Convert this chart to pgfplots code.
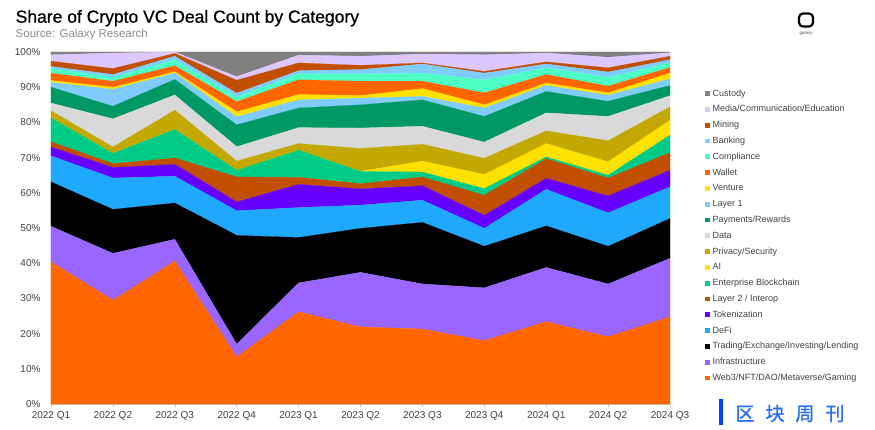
\documentclass[border=0pt]{standalone}
\usepackage{pgfplots}
\pgfplotsset{compat=1.18}
\usepackage{pgfplotstable}
\usepackage{fontspec}
\setmainfont{Liberation Sans}
\newfontfamily\titlefont[FakeBold=0.7]{Liberation Sans}
\newfontfamily\cjk[FakeBold=1.2]{Noto Sans CJK SC}

\definecolor{cWeb}{HTML}{FF6600}
\definecolor{cInfra}{HTML}{9966FF}
\definecolor{cTrade}{HTML}{000000}
\definecolor{cDefi}{HTML}{1EA9FF}
\definecolor{cToken}{HTML}{6600FF}
\definecolor{cLtwo}{HTML}{C24E00}
\definecolor{cEnt}{HTML}{00CC88}
\definecolor{cAI}{HTML}{FFE100}
\definecolor{cPriv}{HTML}{C2A800}
\definecolor{cData}{HTML}{D9D9D9}
\definecolor{cPay}{HTML}{009966}
\definecolor{cLone}{HTML}{80CCFF}
\definecolor{cVen}{HTML}{FFE100}
\definecolor{cWallet}{HTML}{FF6600}
\definecolor{cComp}{HTML}{4DFFC4}
\definecolor{cBank}{HTML}{80CCFF}
\definecolor{cMining}{HTML}{C24E00}
\definecolor{cMedia}{HTML}{DCC8FF}
\definecolor{cCust}{HTML}{808080}
\definecolor{txt}{HTML}{404040}

\pgfplotstableread{
x web3 infra trading defi token ltwo ent ai priv data pay lone ven wallet comp bank mining media custody
0 40.4 10.1 12.6 7.4 2.5 1.5 6.8 0 2.0 2.2 4.5 1.4 0.5 2.1 1.3 0.6 1.5 1.8 0.8
1 29.5 13.3 12.5 8.9 3.0 1.1 2.9 0 1.8 8.0 3.6 4.8 0.6 1.7 1.1 0.8 1.7 4.4 0.3
2 40.6 6.2 10.3 7.6 3.4 1.8 8.1 0 5.5 4.3 4.4 1.8 0.4 1.7 1.7 1.0 0.8 0.4 0
3 13.4 3.6 30.9 7.0 2.5 7.1 1.9 0 2.6 4.1 6.2 2.3 1.4 2.9 1.3 1.1 3.7 1.0 7.0
4 26.2 8.2 12.9 8.5 6.6 2.0 7.7 0 1.9 4.5 5.6 2.3 1.5 4.2 1.7 0.9 2.2 2.2 0.9
5 21.9 15.5 12.5 6.6 4.6 1.5 3.5 0 6.5 5.8 6.6 1.9 0.7 4.1 2.1 1.2 1.2 2.6 1.2
6 21.3 12.8 17.5 6.3 4.1 2.5 1.4 3.1 4.8 5.1 7.5 1.0 2.2 2.1 2.3 2.6 0.3 2.5 0.6
7 18.0 15.0 11.8 5.1 3.7 5.7 1.9 4.0 4.6 4.6 7.3 2.4 0.9 3.4 3.7 1.9 0.5 4.7 0.8
8 23.4 15.4 11.8 10.4 3.1 5.6 0.5 3.8 3.6 5.1 6.1 1.7 0.7 2.4 1.9 1.1 0.6 2.5 0.3
9 19.1 15.0 10.7 9.5 4.8 5.1 0.8 3.8 6.0 6.9 4.3 1.7 0.7 1.9 2.5 1.5 1.2 3.0 1.5
10 24.8 16.6 11.3 9.0 4.7 5.0 5.0 4.2 3.8 3.2 2.9 1.9 1.6 1.6 1.3 0.9 1.0 1.0 0.2
}\datatable

\begin{document}
\begin{tikzpicture}
\useasboundingbox (0pt,0pt) rectangle (875pt,429pt);
% title and source
\node[anchor=base west, inner sep=0pt, font=\titlefont\fontsize{17.5}{20}\selectfont, text=black] at (15.5pt,406.3pt) {Share of Crypto VC Deal Count by Category};
\node[anchor=base west, inner sep=0pt, font=\fontsize{11.5}{13}\selectfont, text=black!45] at (15.5pt,391pt) {Source: Galaxy Research};
% logo
\draw[line width=2.2pt, rounded corners=4pt] (799pt,415.5pt) rectangle (813pt,402.5pt);
\node[inner sep=0pt, font=\fontsize{4.5}{5}\selectfont, text=black!70] at (806pt,395.5pt) {galaxy};
% watermark
\fill[blue!75!cyan] (719pt,4pt) rectangle (723pt,30pt);
\node[inner sep=0pt, font=\cjk\fontsize{19}{20}\selectfont, text={rgb,255:red,40;green,110;blue,240}] at (790pt,15.5pt) {区\hspace{11pt}块\hspace{11pt}周\hspace{11pt}刊};
\begin{axis}[
  at={(51pt,25pt)}, anchor=south west,
  scale only axis, width=619pt, height=352pt,
  xmin=0, xmax=10, ymin=0, ymax=100,
  stack plots=y,
  axis x line*=bottom, axis y line*=left,
  y axis line style={draw=none},
  x axis line style={draw=gray!45, line width=0.6pt},
  tick align=outside, major tick length=3pt,
  xtick style={draw=gray!45, line width=0.6pt},
  ytick style={draw=none},
  ytick={0,10,20,30,40,50,60,70,80,90,100},
  yticklabels={0\%,10\%,20\%,30\%,40\%,50\%,60\%,70\%,80\%,90\%,100\%},
  xtick={0,1,2,3,4,5,6,7,8,9,10},
  xticklabels={2022 Q1,2022 Q2,2022 Q3,2022 Q4,2023 Q1,2023 Q2,2023 Q3,2023 Q4,2024 Q1,2024 Q2,2024 Q3},
  tick label style={font=\fontsize{10}{12}\selectfont, text=txt},
  yticklabel style={xshift=-4pt},
  xticklabel style={yshift=-1pt},
  reverse legend,
  legend cell align=left,
  legend image code/.code={\fill[#1,draw=none] (0pt,-2.4pt) rectangle (4.8pt,2.4pt);},
  legend style={draw=none, fill=none, at={(1.0566,0.894)}, anchor=north west,
    inner sep=0pt, row sep=7.8pt, font=\fontsize{9}{10}\selectfont, text=txt,
    nodes={text height=6.5pt, text depth=1.5pt, inner sep=0pt},
    /tikz/every odd column/.append style={column sep=2.5pt}},
]
\addplot[fill=cWeb, draw=cWeb, line width=0.2pt] table[x=x,y=web3]{\datatable} \closedcycle;
\addlegendentry{Web3/NFT/DAO/Metaverse/Gaming}
\addplot[fill=cInfra, draw=cInfra, line width=0.2pt] table[x=x,y=infra]{\datatable} \closedcycle;
\addlegendentry{Infrastructure}
\addplot[fill=cTrade, draw=cTrade, line width=0.2pt] table[x=x,y=trading]{\datatable} \closedcycle;
\addlegendentry{Trading/Exchange/Investing/Lending}
\addplot[fill=cDefi, draw=cDefi, line width=0.2pt] table[x=x,y=defi]{\datatable} \closedcycle;
\addlegendentry{DeFi}
\addplot[fill=cToken, draw=cToken, line width=0.2pt] table[x=x,y=token]{\datatable} \closedcycle;
\addlegendentry{Tokenization}
\addplot[fill=cLtwo, draw=cLtwo, line width=0.2pt] table[x=x,y=ltwo]{\datatable} \closedcycle;
\addlegendentry{Layer 2 / Interop}
\addplot[fill=cEnt, draw=cEnt, line width=0.2pt] table[x=x,y=ent]{\datatable} \closedcycle;
\addlegendentry{Enterprise Blockchain}
\addplot[fill=cAI, draw=cAI, line width=0.2pt] table[x=x,y=ai]{\datatable} \closedcycle;
\addlegendentry{AI}
\addplot[fill=cPriv, draw=cPriv, line width=0.2pt] table[x=x,y=priv]{\datatable} \closedcycle;
\addlegendentry{Privacy/Security}
\addplot[fill=cData, draw=cData, line width=0.2pt] table[x=x,y=data]{\datatable} \closedcycle;
\addlegendentry{Data}
\addplot[fill=cPay, draw=cPay, line width=0.2pt] table[x=x,y=pay]{\datatable} \closedcycle;
\addlegendentry{Payments/Rewards}
\addplot[fill=cLone, draw=cLone, line width=0.2pt] table[x=x,y=lone]{\datatable} \closedcycle;
\addlegendentry{Layer 1}
\addplot[fill=cVen, draw=cVen, line width=0.2pt] table[x=x,y=ven]{\datatable} \closedcycle;
\addlegendentry{Venture}
\addplot[fill=cWallet, draw=cWallet, line width=0.2pt] table[x=x,y=wallet]{\datatable} \closedcycle;
\addlegendentry{Wallet}
\addplot[fill=cComp, draw=cComp, line width=0.2pt] table[x=x,y=comp]{\datatable} \closedcycle;
\addlegendentry{Compliance}
\addplot[fill=cBank, draw=cBank, line width=0.2pt] table[x=x,y=bank]{\datatable} \closedcycle;
\addlegendentry{Banking}
\addplot[fill=cMining, draw=cMining, line width=0.2pt] table[x=x,y=mining]{\datatable} \closedcycle;
\addlegendentry{Mining}
\addplot[fill=cMedia, draw=cMedia, line width=0.2pt] table[x=x,y=media]{\datatable} \closedcycle;
\addlegendentry{Media/Communication/Education}
\addplot[fill=cCust, draw=cCust, line width=0.2pt] table[x=x,y=custody]{\datatable} \closedcycle;
\addlegendentry{Custody}
\end{axis}
\end{tikzpicture}
\end{document}
